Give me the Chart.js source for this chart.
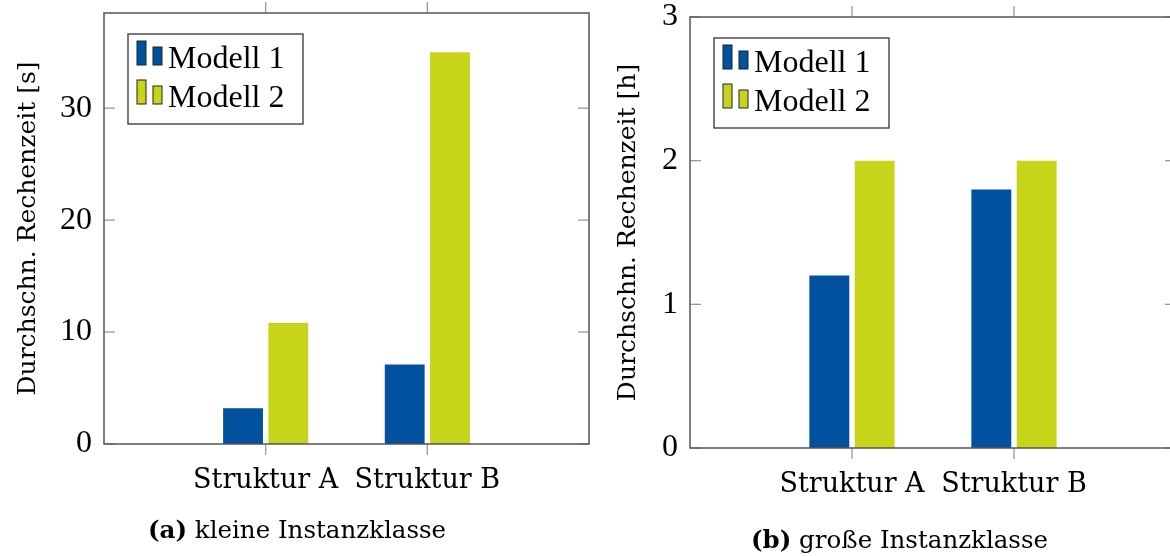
<!DOCTYPE html>
<html lang="de">
<head>
<meta charset="UTF-8">
<title>Durchschn. Rechenzeit</title>
<style>
  * { margin: 0; padding: 0; box-sizing: border-box; }
  html, body { width: 1170px; height: 556px; overflow: hidden; background: #fff; }
  .wrap { position: absolute; top: 0; }
  .caption {
    position: absolute;
    font-family: "DejaVu Serif", serif;
    font-size: 24.5px;
    line-height: 1;
    color: #000;
    white-space: nowrap;
  }
  .caption b { font-weight: bold; }
</style>
</head>
<body>
  <div class="wrap" style="left:0"><canvas id="smallChart" width="600" height="556"></canvas></div>
  <div class="wrap" style="left:600px"><canvas id="largeChart" width="590" height="556"></canvas></div>
  <div class="caption" style="left:148px; top:518px"><b>(a)</b> kleine Instanzklasse</div>
  <div class="caption" style="left:751px; top:528px"><b>(b)</b> große Instanzklasse</div>

<script src="https://cdn.jsdelivr.net/npm/chart.js@4.4.1/dist/chart.umd.min.js"></script>
<script>
// data
const categories = ['', 'Struktur A', 'Struktur B', ''];
const seriesNames = ['Modell 1', 'Modell 2'];
const smallModell1 = [null, 3.2, 7.1, null];
const smallModell2 = [null, 10.8, 35.0, null];
const largeModell1 = [null, 1.2, 1.8, null];
const largeModell2 = [null, 2.0, 2.0, null];
const smallTicks = [0, 10, 20, 30];
const largeTicks = [0, 1, 2, 3];

const blue = '#00519e';
const green = '#c8d41a';
const tickFont = { family: '"Liberation Serif", serif', size: 32 };
const labelFont = { family: '"DejaVu Serif", serif', size: 27 };
const titleFont = { family: '"DejaVu Serif", serif', size: 25 };

function line(ctx, x1, y1, x2, y2) {
    ctx.beginPath();
    ctx.moveTo(x1, y1);
    ctx.lineTo(x2, y2);
    ctx.stroke();
}

// fixed axis sizes, no extra label padding -> chart area lands where we want it
function fixSize(prop, size) {
    return s => {
        s[prop] = size;
        s.paddingTop = 0;
        s.paddingBottom = 0;
        s.paddingLeft = 0;
        s.paddingRight = 0;
    };
}

// axis box, tick marks and the legend (pgfplots style)
const framePlugin = {
    id: 'frame',
    afterDraw(chart) {
        const { ctx, chartArea: a, scales: { x, y } } = chart;
        ctx.save();
        ctx.strokeStyle = '#9a9a9a';
        ctx.lineWidth = 1.3;
        y.ticks.forEach(t => {
            const py = y.getPixelForValue(t.value);
            line(ctx, a.left, py, a.left + 11, py);
            line(ctx, a.right - 11, py, a.right, py);
        });
        categories.forEach((c, i) => {
            if (!c) return;
            const px = x.getPixelForValue(i);
            line(ctx, px, a.bottom, px, a.bottom + 11);
            line(ctx, px, a.top - 11, px, a.top);
        });
        ctx.strokeStyle = '#555';
        ctx.lineWidth = 1.5;
        ctx.strokeRect(a.left, a.top, a.width, a.height);

        // legend
        const lx = a.left + 24, ly = a.top + 21;
        ctx.fillStyle = '#fff';
        ctx.fillRect(lx, ly, 175, 90);
        ctx.strokeStyle = '#333';
        ctx.lineWidth = 1.3;
        ctx.strokeRect(lx, ly, 175, 90);
        ctx.font = `${tickFont.size}px ${tickFont.family}`;
        ctx.textBaseline = 'middle';
        chart.data.datasets.forEach((ds, i) => {
            const cy = ly + 25 + i * 39;
            const base = cy + 6;
            ctx.fillStyle = ds.backgroundColor;
            ctx.strokeStyle = '#222';
            ctx.lineWidth = 1;
            ctx.fillRect(lx + 9, base - 24, 9, 24);
            ctx.strokeRect(lx + 9, base - 24, 9, 24);
            ctx.fillRect(lx + 25, base - 18, 9, 18);
            ctx.strokeRect(lx + 25, base - 18, 9, 18);
            ctx.fillStyle = '#000';
            ctx.fillText(ds.label, lx + 40, cy + 1);
        });
        ctx.restore();
    }
};

function createChart(id, m1, m2, yMax, yTicks, unit, pad, yWidth, xHeight) {
    return new Chart(document.getElementById(id), {
        type: 'bar',
        data: {
            labels: categories,
            datasets: [
                { label: seriesNames[0], data: m1, backgroundColor: blue, borderWidth: 0 },
                { label: seriesNames[1], data: m2, backgroundColor: green, borderWidth: 0 }
            ]
        },
        options: {
            responsive: false,
            animation: false,
            categoryPercentage: 0.56,
            barPercentage: 0.88,
            layout: { padding: pad },
            plugins: { legend: { display: false }, tooltip: { enabled: false } },
            scales: {
                x: {
                    offset: false,
                    grid: { display: false, drawTicks: false },
                    border: { display: false },
                    ticks: { font: labelFont, color: '#000', padding: 21, maxRotation: 0, autoSkip: false },
                    afterFit: fixSize('height', xHeight)
                },
                y: {
                    min: 0,
                    max: yMax,
                    grid: { display: false, drawTicks: false },
                    border: { display: false },
                    ticks: { font: tickFont, color: '#000', padding: 12 },
                    afterBuildTicks: s => { s.ticks = yTicks.map(v => ({ value: v })); },
                    afterFit: fixSize('width', yWidth),
                    title: {
                        display: true,
                        text: 'Durchschn. Rechenzeit [' + unit + ']',
                        font: titleFont,
                        color: '#000',
                        padding: { top: 13, bottom: 0 }
                    }
                }
            }
        },
        plugins: [framePlugin]
    });
}

createChart('smallChart', smallModell1, smallModell2, 38.5, smallTicks, 's',
    { left: 0, top: 13, right: 11, bottom: 0 }, 104, 112);
createChart('largeChart', largeModell1, largeModell2, 3, largeTicks, 'h',
    { left: 0, top: 17, right: 14, bottom: 0 }, 90, 108);
</script>
</body>
</html>
